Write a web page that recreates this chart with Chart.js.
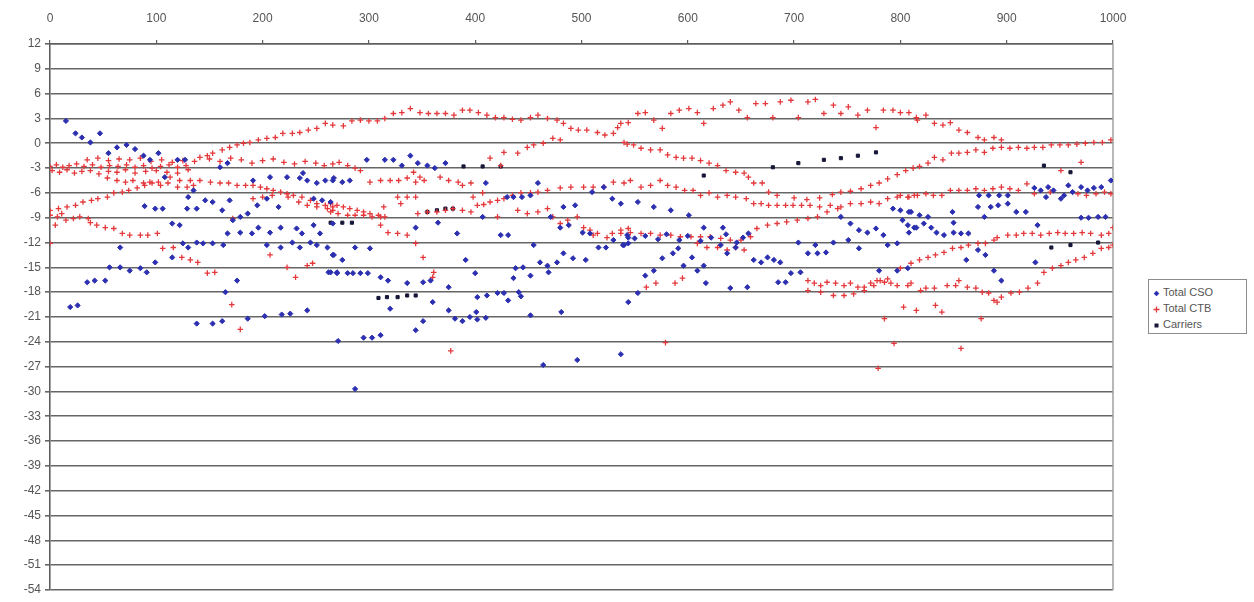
<!DOCTYPE html>
<html>
<head>
<meta charset="utf-8">
<title>Total CSO / CTB / Carriers</title>
<script src="https://cdn.jsdelivr.net/npm/chart.js@4.4.1/dist/chart.umd.min.js"></script>
<style>
  html, body { margin: 0; padding: 0; background: #fff; }
  #wrap { position: relative; width: 1254px; height: 602px; }
  #legend { position: absolute; left: 1148px; top: 279px; width: 99px; height: 55px; box-sizing: border-box;
            border: 1px solid #8c8c8c; background: #fff; padding: 4px 0 0 4px;
            font: 11px 'Liberation Sans', Arial, sans-serif; color: #555; }
  #legend div { height: 16px; line-height: 16px; white-space: nowrap; }
  #legend svg { vertical-align: middle; margin-right: 3px; }
</style>
</head>
<body>
<div id="wrap">
  <canvas id="chart" width="1254" height="602"></canvas>
  <div id="legend"></div>
</div>
<script>
// axis ranges / ticks
const xMin = 0, xMax = 1000, xStep = 100;
const yMin = -54, yMax = 12, yStep = 3;

const seriesNames = ['Total CSO', 'Total CTB', 'Carriers'];

// [x, y] pairs
const csoPoints = [
  [15,2.7],[24,1.2],[30,0.7],[38,0.1],[47,1.2],[63,-0.5],[72,-0.2],[80,-0.7],[55,-1.2],[88,-1.5],[94,-2.0],[102,-1.2],
  [120,-2.0],[127,-2.0],[108,-4.1],[135,-5.7],[130,-6.5],[160,-2.9],[167,-2.4],[146,-6.9],[153,-7.1],[169,-6.9],[162,-8.1],
  [191,-4.5],[207,-4.1],[223,-4.1],[235,-4.2],[242,-4.5],[251,-4.8],[259,-4.5],[266,-4.5],[238,-3.6],
  [248,-6.7],[256,-6.9],[264,-7.1],[204,-6.7],[195,-7.5],[215,-7.7],
  [89,-7.6],[99,-7.9],[106,-7.9],[129,-7.9],[138,-7.9],[115,-9.7],[122,-9.9],[172,-9.3],[179,-8.9],[186,-8.5],
  [167,-10.9],[179,-10.8],[190,-10.9],[196,-10.2],[207,-10.8],[217,-10.2],[232,-10.3],[237,-10.9],[248,-9.9],[254,-10.9],[266,-9.7],
  [125,-12.1],[130,-12.6],[138,-12.0],[144,-12.1],[153,-12.1],[163,-12.3],
  [204,-12.3],[217,-12.6],[228,-12.0],[235,-12.6],[245,-12.0],[251,-12.3],[261,-12.6],[266,-13.5],
  [66,-12.6],[115,-13.8],[99,-14.4],[56,-15.0],[66,-15.0],[75,-15.4],[85,-15.1],[91,-15.6],
  [35,-16.8],[42,-16.6],[52,-16.6],[176,-16.6],[262,-15.6],[270,-15.6],[19,-19.8],[26,-19.6],[165,-18.0],
  [138,-21.8],[153,-21.8],[162,-21.5],[186,-21.2],[202,-20.9],[218,-20.7],[226,-20.6],[242,-20.2],
  [271,-23.9],[287,-29.7],[295,-23.5],[303,-23.5],[311,-23.2],[344,-22.6],[351,-21.5],[320,-20.0],[360,-19.2],
  [298,-2.0],[315,-2.0],[323,-2.0],[331,-2.7],[339,-1.5],[346,-2.4],[355,-2.7],[362,-3.0],[372,-2.4],
  [267,-4.2],[275,-4.7],[282,-4.5],[410,-4.8],[459,-4.8],[430,-6.5],[436,-6.5],[444,-6.5],[452,-6.3],
  [510,-5.9],[521,-5.3],[529,-6.7],[537,-7.3],[483,-7.7],[494,-7.5],
  [365,-9.6],[407,-8.9],[471,-8.9],[480,-10.2],[488,-9.9],[344,-10.2],[383,-10.9],[424,-11.1],[431,-11.1],[501,-10.8],[508,-10.9],
  [516,-12.6],[523,-12.6],[530,-11.7],[539,-12.3],[544,-12.1],[287,-12.6],[301,-12.7],[455,-12.3],
  [483,-13.3],[492,-13.9],[504,-14.1],[267,-13.5],[275,-14.1],[391,-14.1],
  [438,-15.1],[445,-15.0],[461,-14.4],[468,-14.8],[477,-14.4],
  [264,-15.6],[270,-15.7],[280,-15.7],[285,-15.7],[292,-15.7],[299,-15.7],
  [311,-16.2],[318,-16.6],[336,-16.9],[351,-16.8],[358,-16.6],[400,-15.7],[436,-16.3],[452,-16.0],[469,-15.6],[375,-17.4],
  [402,-18.6],[411,-18.4],[421,-18.1],[427,-18.1],[441,-18.0],
  [381,-21.2],[388,-21.5],[395,-21.0],[402,-21.3],[410,-21.1],[375,-20.2],[401,-20.4],[431,-19.0],[443,-18.5],
  [464,-26.8],[496,-26.2],[537,-25.5],[452,-20.8],[481,-20.4],
  [553,-7.1],[568,-7.7],[584,-8.1],[601,-8.7],[543,-11.1],[540,-12.3],
  [544,-11.4],[560,-16.0],[568,-15.4],[576,-13.9],[586,-13.3],[591,-12.7],[596,-14.8],[604,-13.8],[609,-15.4],[615,-14.8],
  [615,-10.2],[633,-10.2],[617,-16.9],[640,-17.5],[656,-17.4],
  [631,-12.3],[637,-13.3],[645,-12.6],[652,-11.4],[657,-10.9],[662,-14.1],[669,-14.4],[675,-13.8],[681,-14.1],[687,-14.4],
  [685,-16.8],[692,-16.8],[697,-15.7],[706,-15.6],[713,-13.3],[722,-13.3],[730,-13.2],
  [704,-12.0],[720,-12.3],[737,-12.0],[751,-11.7],[761,-12.7],
  [744,-8.9],[753,-9.7],[761,-10.5],[769,-10.8],[777,-10.3],[784,-11.1],[780,-15.4],[788,-12.3],[797,-12.1],
  [793,-7.9],[800,-8.1],[808,-8.3],[802,-9.3],[807,-9.9],[813,-10.2],[797,-15.4],[807,-15.1],[544,-19.2],[553,-18.1],
  [550,-11.5],[560,-11.2],[572,-11.6],[580,-11.0],[592,-11.7],[600,-11.2],[612,-11.8],[622,-11.4],[636,-11.0],[646,-12.0],
  [810,-8.3],[818,-8.7],[826,-8.9],
  [808,-10.8],[815,-10.2],[822,-9.7],[829,-10.2],[834,-10.8],[841,-11.1],[850,-10.8],[857,-10.9],[864,-10.9],
  [849,-8.3],[850,-9.6],[873,-7.7],[879,-8.9],[885,-7.7],[892,-7.5],[901,-7.3],[909,-8.3],[918,-8.3],
  [874,-6.3],[883,-6.3],[893,-6.3],[901,-6.3],
  [926,-5.4],[932,-5.7],[939,-5.3],[944,-5.7],[954,-6.3],[958,-5.1],[962,-5.9],[970,-5.3],[976,-5.7],[982,-5.4],[989,-5.3],
  [937,-6.5],[951,-6.7],[970,-9.0],[977,-9.0],[986,-8.9],[993,-8.9],[998,-4.5],[929,-9.9],
  [862,-14.1],[873,-12.9],[880,-13.5],[888,-15.4],[895,-16.6],[927,-14.4]
];

const ctbPoints = [
  [0,-2.8],[6,-2.6],[12,-2.9],[18,-2.7],[25,-2.5],[32,-2.8],[40,-2.6],[48,-2.9],[56,-2.7],[64,-2.8],[72,-2.6],[80,-2.9],
  [88,-2.7],[96,-3.0],[104,-2.8],[112,-2.6],[120,-2.9],[128,-2.7],
  [2,-3.3],[9,-3.5],[16,-3.2],[23,-3.6],[30,-3.4],[38,-3.3],[46,-3.7],[55,-3.4],[63,-3.5],[71,-3.2],[80,-3.6],[90,-3.4],
  [100,-3.3],[110,-3.5],[120,-3.6],[130,-3.2],
  [35,-2.0],[45,-1.8],[55,-2.1],[65,-1.9],[75,-2.0],[85,-1.8],[95,-2.2],[105,-2.0],[115,-2.3],[125,-2.1],[150,-1.9],[160,-2.2],
  [170,-1.8],[180,-2.0],[190,-2.4],[200,-2.1],[210,-1.9],[220,-2.3],[230,-2.5],[240,-2.2],[250,-2.4],[258,-2.7],[266,-2.5],
  [272,-2.3],[280,-2.7],[287,-3.0],[292,-3.3],
  [136,-2.2],[141,-1.7],[148,-1.5],[153,-1.2],[162,-0.8],[169,-0.5],[176,-0.2],[182,0.0],[188,0.1],[196,0.4],[204,0.6],
  [212,0.7],[219,1.2],[228,1.2],[235,1.3],[243,1.6],[251,1.8],[259,2.4],[266,2.2],
  [276,2.1],[284,2.7],[292,2.8],[300,2.7],[308,2.7],[315,3.0],[323,3.6],[331,3.7],[339,4.2],[348,3.7],[356,3.6],[364,3.6],
  [372,3.6],[380,3.4],[388,4.0],[395,4.0],[403,3.7],[411,3.4],[419,3.1],[427,3.1],[435,2.9],[443,2.8],[452,3.1],[459,3.4],
  [468,3.0],[477,2.8],[483,2.4],[490,1.8],[497,1.6],[505,1.6],[515,1.3],[522,1.0],[530,1.2],[534,1.9],[540,0.1],
  [543,-0.1],[549,-0.2],[556,-0.6],[565,-0.8],[574,-0.8],[581,-1.4],[589,-1.7],[596,-1.8],[604,-1.8],[612,-2.1],[620,-2.4],
  [628,-2.7],[636,-3.3],[645,-3.5],[653,-3.6],[657,-4.1],[662,-4.8],[670,-4.8],[676,-5.9],[684,-6.3],[700,-6.6],[712,-6.8],
  [724,-6.6],[736,-6.2],
  [744,-5.9],[753,-5.8],[763,-5.5],[772,-5.1],[780,-4.8],[788,-4.3],[797,-3.8],[805,-3.3],[812,-3.0],[818,-2.8],[826,-2.4],
  [832,-1.7],[840,-2.0],[848,-1.2],[855,-1.2],[863,-1.1],[871,-0.8],[879,-1.1],[887,-0.6],[895,-0.5],[903,-0.6],[911,-0.5],
  [919,-0.6],[926,-0.5],[934,-0.5],[942,-0.2],[950,-0.2],[958,-0.2],[966,-0.1],[974,0.0],[982,0.1],[990,0.1],[998,0.4],
  [414,-1.8],[424,-2.7],[427,-1.1],[440,-1.2],[449,-0.5],[455,-0.2],[464,0.0],[473,0.6],[480,0.4],
  [537,2.4],[544,2.5],[553,3.6],[560,3.7],[568,2.8],[576,1.8],[584,3.6],[592,4.0],[601,4.2],[609,3.7],[615,2.4],[624,4.2],
  [633,4.6],[640,5.0],[648,4.0],[656,3.1],[664,4.8],[673,4.8],[680,3.1],[687,5.0],[697,5.2],[704,3.1],[713,5.0],[720,5.3],
  [728,3.6],[737,4.6],[744,3.6],[751,4.4],[760,3.4],[769,4.0],[777,1.9],[784,4.0],[793,4.0],[800,3.7],[808,3.7],[816,2.8],
  [815,3.1],[824,3.4],[832,2.4],[840,2.2],[847,2.5],[855,1.6],[863,1.3],[873,0.7],[879,0.4],[888,0.7],[895,0.4],
  [301,-4.7],[311,-4.5],[320,-4.5],[328,-4.5],[336,-4.2],[344,-4.7],[352,-4.5],[367,-4.1],[375,-4.5],[384,-4.7],[388,-5.1],
  [396,-4.8],[342,-3.5],[348,-4.1],
  [54,-4.2],[63,-4.5],[71,-4.7],[78,-4.5],[88,-4.8],[94,-4.7],[104,-5.1],[111,-4.8],[120,-5.3],[129,-5.3],[135,-5.1],
  [113,-4.1],[122,-4.5],[132,-4.5],[141,-4.5],[151,-4.7],[160,-4.8],[168,-4.8],[176,-5.1],[184,-5.1],[191,-5.1],[198,-5.3],
  [204,-5.5],[210,-5.7],[217,-5.9],[223,-6.1],[229,-6.3],[237,-6.5],[245,-6.9],[251,-7.3],[259,-7.5],[266,-7.7],
  [0,-8.1],[8,-7.9],[16,-7.7],[24,-7.5],[31,-7.1],[39,-6.9],[45,-6.7],[54,-6.5],[60,-6.0],[68,-5.9],[74,-5.7],[82,-5.4],
  [89,-5.1],[96,-4.8],[102,-4.7],
  [0,-8.7],[7,-8.9],[15,-9.3],[22,-9.1],[28,-8.9],[36,-9.1],[5,-9.9],[11,-8.5],
  [38,-9.6],[44,-9.9],[52,-10.2],[60,-10.3],[68,-10.9],[75,-11.1],[85,-11.1],[92,-11.1],[101,-10.9],[0,-12.1],
  [106,-12.7],[116,-12.6],[124,-13.8],[132,-14.1],[139,-14.4],[148,-15.7],[155,-15.6],[171,-19.5],[179,-22.5],
  [207,-13.5],[223,-15.0],[231,-16.2],[242,-14.8],[247,-14.5],
  [172,-9.1],[191,-6.7],[200,-6.5],[209,-6.3],[224,-6.5],[234,-7.1],[242,-7.5],[251,-7.7],[261,-7.9],[266,-8.1],
  [264,-7.3],[270,-7.5],[276,-7.7],[282,-7.9],[289,-8.1],[295,-8.3],[301,-8.5],[309,-8.7],[315,-8.9],
  [264,-8.3],[271,-8.5],[280,-8.7],[287,-8.7],[295,-8.7],[303,-8.9],[311,-8.9],
  [314,-7.7],[327,-6.5],[336,-6.5],[344,-6.5],[330,-7.3],
  [346,-8.5],[355,-8.3],[364,-8.3],[372,-8.1],[379,-7.9],[388,-8.1],[396,-8.3],
  [402,-7.5],[408,-7.4],[414,-7.1],[421,-6.9],[427,-6.7],[435,-6.3],[443,-6.0],[452,-6.0],[459,-5.9],
  [468,-5.7],[480,-5.4],[490,-5.3],[502,-5.3],[511,-5.3],[521,-5.3],[530,-4.7],[540,-4.8],
  [398,-6.5],[407,-6.0],[440,-8.1],[449,-8.5],[459,-8.3],[421,-8.9],
  [468,-7.9],[473,-8.9],[480,-9.7],[487,-9.3],[496,-8.9],[502,-10.2],[508,-10.5],[511,-11.1],[515,-10.9],[524,-11.4],
  [529,-10.9],[537,-10.5],[544,-10.3],
  [311,-9.9],[318,-10.8],[327,-10.9],[336,-11.1],[344,-12.1],[351,-13.8],[361,-15.6],[360,-16.2],[377,-25.1],
  [546,-4.5],[556,-5.3],[565,-5.1],[574,-4.5],[581,-5.1],[589,-5.3],[597,-5.7],[605,-5.7],[612,-6.3],[620,-6.0],[628,-6.5],
  [637,-6.3],[645,-6.5],[655,-6.7],[662,-7.3],[669,-7.3],[676,-7.5],[684,-7.5],[692,-7.5],[699,-7.5],[707,-7.5],[715,-7.5],
  [724,-7.7],[734,-7.5],[744,-7.7],[753,-7.3],[763,-7.3],[772,-7.1],[780,-7.3],[788,-6.7],[797,-6.5],[807,-6.5],[813,-6.3],
  [800,-6.3],[808,-6.5],[816,-6.3],[824,-6.1],[831,-6.3],[839,-6.3],[847,-5.7],[855,-5.7],[863,-5.7],[871,-5.5],[879,-5.7],
  [887,-5.5],[895,-5.3],[903,-5.5],[911,-5.7],[919,-4.9],[926,-6.1],[941,-5.9],[967,-6.1],[975,-6.3],[984,-6.1],[992,-5.9],
  [998,-6.1],
  [537,-10.9],[546,-10.8],[556,-10.9],[565,-10.9],[574,-11.1],[584,-11.1],[593,-11.3],[603,-11.3],[612,-11.3],[621,-11.3],
  [631,-11.5],[640,-11.7],[650,-11.7],[659,-11.3],[665,-10.3],[675,-9.9],[684,-9.7],[693,-9.5],[703,-9.3],[713,-9.1],
  [722,-8.9],[731,-8.3],[741,-7.9],
  [609,-12.1],[618,-12.6],[628,-12.6],[637,-12.9],[645,-12.6],[653,-12.9],[588,-16.9],[595,-16.3],[561,-17.4],[570,-16.9],
  [713,-16.6],[719,-16.9],[725,-17.2],[731,-16.8],[739,-16.9],[747,-17.2],[753,-16.9],[760,-17.4],[766,-17.4],[772,-16.9],
  [778,-16.6],[785,-16.8],[791,-16.9],[797,-17.2],[807,-17.2],
  [713,-17.8],[725,-18.0],[737,-18.4],[747,-18.4],[756,-18.2],[766,-17.8],[775,-17.2],[781,-16.6],[788,-16.4],
  [810,-16.9],[819,-17.8],[824,-17.5],[832,-17.5],[844,-17.2],[852,-17.2],[855,-16.6],[863,-17.4],[871,-17.5],[877,-18.0],
  [883,-18.1],[891,-19.2],[803,-19.8],[815,-20.2],
  [800,-15.1],[810,-14.5],[818,-14.1],[826,-13.8],[833,-13.5],[841,-13.2],[849,-12.7],[857,-12.6],[864,-12.3],[873,-12.1],
  [880,-12.1],[888,-11.7],
  [891,-11.4],[901,-11.1],[909,-11.1],[916,-10.9],[924,-10.9],[932,-11.1],[940,-10.9],[948,-10.8],[955,-10.9],[963,-10.9],
  [971,-10.8],[979,-10.9],[989,-11.1],[996,-10.9],[1000,-10.2],
  [888,-19.0],[895,-18.6],[904,-18.1],[912,-18.0],[920,-17.5],[929,-16.9],[935,-15.6],[943,-15.1],[951,-14.8],[958,-14.4],
  [965,-14.1],[973,-13.8],[981,-13.3],[989,-12.7],[996,-12.6],[1000,-12.3],
  [579,-24.1],[779,-27.2],[785,-21.2],[794,-24.2],[833,-19.6],[839,-20.4],[857,-24.8],[876,-21.2],
  [970,-2.3],[951,-3.3]
];

const carrierPoints = [
  [389,-2.8],[407,-2.8],[424,-2.8],
  [264,-9.6],[275,-9.6],[284,-9.6],
  [355,-8.3],[364,-8.1],[372,-7.9],[379,-7.9],
  [309,-18.7],[317,-18.6],[327,-18.6],[336,-18.4],[344,-18.4],
  [615,-3.9],[680,-2.9],[704,-2.4],[728,-2.0],[744,-1.8],[760,-1.5],[777,-1.1],
  [935,-2.7],[960,-3.5],
  [942,-12.6],[960,-12.3],[986,-12.0]
];

const seriesColors = ['#2b2fb0', '#e4383b', '#161638'];
const seriesStyles = ['rectRot', 'cross', 'rect'];

const toXY = pts => pts.map(([x, y]) => ({ x, y }));

// right-hand frame line of the plot area
const framePlugin = {
  id: 'frame',
  beforeDatasetsDraw(chart) {
    const { ctx, chartArea: a } = chart;
    ctx.save();
    ctx.strokeStyle = '#a0a0a0';
    ctx.lineWidth = 1.5;
    ctx.beginPath();
    ctx.moveTo(a.right, a.top);
    ctx.lineTo(a.right, a.bottom);
    ctx.stroke();
    ctx.restore();
  }
};

const tickFont = { family: "'Liberation Sans', Arial, sans-serif", size: 12 };

const chart = new Chart(document.getElementById('chart').getContext('2d'), {
  type: 'scatter',
  data: {
    datasets: [
      { label: seriesNames[0], data: toXY(csoPoints), pointStyle: seriesStyles[0], pointRadius: 2.6,
        backgroundColor: seriesColors[0], borderColor: seriesColors[0], borderWidth: 1 },
      { label: seriesNames[1], data: toXY(ctbPoints), pointStyle: seriesStyles[1], pointRadius: 2.8,
        backgroundColor: seriesColors[1], borderColor: seriesColors[1], borderWidth: 1.3 },
      { label: seriesNames[2], data: toXY(carrierPoints), pointStyle: seriesStyles[2], pointRadius: 2.2,
        backgroundColor: seriesColors[2], borderColor: seriesColors[2], borderWidth: 1 }
    ]
  },
  options: {
    responsive: false,
    animation: false,
    layout: { padding: { left: 0, top: 0, right: 141, bottom: 12 } },
    plugins: { legend: { display: false }, tooltip: { enabled: false } },
    elements: { point: { hoverRadius: 3 } },
    scales: {
      x: {
        type: 'linear', position: 'top', min: xMin, max: xMax,
        afterFit: s => { s.height = 44; },
        ticks: { stepSize: xStep, color: '#555', font: tickFont, padding: 14, maxRotation: 0,
                 callback: v => String(v) },
        grid: { drawOnChartArea: false, tickLength: 4, color: '#5e5e5e', lineWidth: 1.2 },
        border: { display: true, color: '#5e5e5e', width: 1.6 }
      },
      y: {
        type: 'linear', min: yMin, max: yMax,
        afterFit: s => { s.width = 50; },
        ticks: { stepSize: yStep, color: '#555', font: tickFont, padding: 4, callback: v => String(v) },
        grid: { color: '#666', lineWidth: 1.6, tickLength: 5 },
        border: { display: true, color: '#5e5e5e', width: 1.6 }
      }
    }
  },
  plugins: [framePlugin]
});

// legend box built from the datasets
function markerSvg(i) {
  const c = seriesColors[i];
  if (seriesStyles[i] === 'rectRot') {
    return `<svg width="7" height="7"><rect x="1.5" y="1.5" width="4" height="4" fill="${c}" transform="rotate(45 3.5 3.5)"/></svg>`;
  }
  if (seriesStyles[i] === 'cross') {
    return `<svg width="7" height="7"><path d="M3.5 0.5V6.5M0.5 3.5H6.5" stroke="${c}" stroke-width="1.3"/></svg>`;
  }
  return `<svg width="7" height="7"><rect x="1.5" y="1.5" width="4" height="4" fill="${c}"/></svg>`;
}
document.getElementById('legend').innerHTML = chart.data.datasets
  .map((ds, i) => `<div>${markerSvg(i)}<span>${ds.label}</span></div>`).join('');
</script>
</body>
</html>
